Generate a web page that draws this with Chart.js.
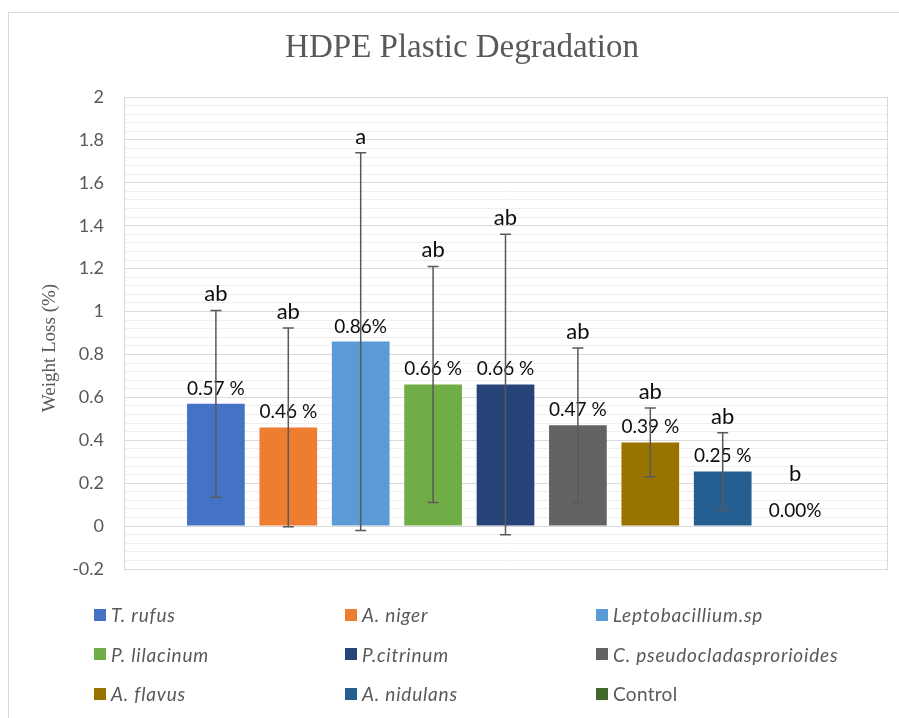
<!DOCTYPE html>
<html>
<head>
<meta charset="utf-8">
<title>HDPE Plastic Degradation</title>
<script src="https://cdn.jsdelivr.net/npm/chart.js@4.4.1/dist/chart.umd.min.js"></script>
<style>
  html, body { margin: 0; padding: 0; background: #fff; overflow: hidden; }
  #frame { position: absolute; left: 8px; top: 12px; width: 906px; height: 720px; border: 1px solid #d9d9d9; }
  #degradation { position: absolute; left: 0; top: 0; }
  #legend { position: absolute; left: 85px; top: 582px; display: grid;
            grid-template-columns: repeat(3, 251px); grid-auto-rows: 39.5px;
            font: italic 19px Lato, sans-serif; letter-spacing: 0.8px; color: #595959; }
  #legend .item { display: flex; align-items: center; white-space: nowrap; }
  #legend .box { width: 12px; height: 12px; margin-right: 5px; flex: none; }
  #legend .upright { font-style: normal; letter-spacing: 0.3px; }
</style>
</head>
<body>
<div id="frame">
  <canvas id="degradation" width="906" height="706"></canvas>
  <div id="legend"></div>
</div>
<script>
const species = ['T. rufus', 'A. niger', 'Leptobacillium.sp', 'P. lilacinum', 'P.citrinum',
                 'C. pseudocladasprorioides', 'A. flavus', 'A. nidulans', 'Control'];
const weightLoss = [0.57, 0.46, 0.86, 0.66, 0.66, 0.47, 0.39, 0.255, 0];
const errors = [0.435, 0.463, 0.88, 0.55, 0.70, 0.36, 0.16, 0.18, 0];
const valueLabels = ['0.57 %', '0.46 %', '0.86%', '0.66 %', '0.66 %', '0.47 %', '0.39 %', '0.25 %', '0.00%'];
const letters = ['ab', 'ab', 'a', 'ab', 'ab', 'ab', 'ab', 'ab', 'b'];
const colors = ['#4472C4', '#ED7D31', '#5B9BD5', '#70AD47', '#264478',
                '#636363', '#997300', '#255E91', '#43682B'];
const uprightNames = ['Control'];
const yTitle = 'Weight Loss (%)';

// error bars, value labels, significance letters and the y title
const annotate = {
    id: 'annotate',
    afterDatasetsDraw(chart) {
        const ctx = chart.ctx;
        const y = chart.scales.y;
        const area = chart.chartArea;
        ctx.save();
        ctx.textAlign = 'center';
        ctx.textBaseline = 'alphabetic';
        chart.data.datasets.forEach((ds, i) => {
            const bar = chart.getDatasetMeta(i).data[0];
            const v = weightLoss[i];
            const e = errors[i];
            const labelBase = y.getPixelForValue(v) - 9;
            ctx.fillStyle = '#0d0d0d';
            ctx.font = '19px Lato';
            ctx.fillText(valueLabels[i], bar.x, labelBase);

            let letterBase = labelBase - 36;
            if (e > 0) {
                const hi = y.getPixelForValue(v + e);
                const lo = y.getPixelForValue(v - e);
                ctx.strokeStyle = '#595959';
                ctx.lineWidth = 1.5;
                ctx.beginPath();
                ctx.moveTo(bar.x, hi);
                ctx.lineTo(bar.x, lo);
                ctx.moveTo(bar.x - 5.5, hi);
                ctx.lineTo(bar.x + 5.5, hi);
                ctx.moveTo(bar.x - 5.5, lo);
                ctx.lineTo(bar.x + 5.5, lo);
                ctx.stroke();
                letterBase = hi - 9;
            }
            ctx.font = '22px Lato';
            ctx.fillText(letters[i], bar.x, letterBase);
        });

        ctx.translate(41, (area.top + area.bottom) / 2 + 15);
        ctx.rotate(-Math.PI / 2);
        ctx.textBaseline = 'middle';
        ctx.fillStyle = '#595959';
        ctx.font = '19px "Liberation Serif"';
        ctx.fillText(yTitle, 0, 0);
        ctx.restore();
    }
};

const htmlLegend = {
    id: 'htmlLegend',
    afterUpdate(chart) {
        const box = document.getElementById('legend');
        box.innerHTML = '';
        const items = chart.options.plugins.legend.labels.generateLabels(chart);
        items.forEach(item => {
            const el = document.createElement('div');
            el.className = 'item';
            const sw = document.createElement('span');
            sw.className = 'box';
            sw.style.background = item.fillStyle;
            const txt = document.createElement('span');
            txt.textContent = item.text;
            if (uprightNames.includes(item.text)) txt.className = 'upright';
            el.appendChild(sw);
            el.appendChild(txt);
            box.appendChild(el);
        });
    }
};

function isMajor(v) {
    return Math.abs(Math.round(v / 0.2) * 0.2 - v) < 1e-6;
}

const canvas = document.getElementById('degradation').getContext('2d');

new Chart(canvas, {
    type: 'bar',
    data: {
        labels: [''],
        datasets: species.map((name, i) => ({
            label: name,
            data: [weightLoss[i]],
            backgroundColor: colors[i],
            borderWidth: 0,
            categoryPercentage: 0.854,
            barPercentage: 0.797
        }))
    },
    options: {
        responsive: false,
        animation: false,
        layout: { padding: { left: 0, right: 0, top: 0, bottom: 150 } },
        plugins: {
            legend: { display: false },
            tooltip: { enabled: false },
            title: {
                display: true,
                text: 'HDPE Plastic Degradation',
                color: '#595959',
                font: { family: 'Liberation Serif', size: 33, weight: 'normal' },
                padding: { top: 16, bottom: 28.4 }
            }
        },
        scales: {
            x: {
                ticks: { display: false },
                grid: { color: '#d9d9d9', drawTicks: false },
                border: { color: '#d9d9d9' }
            },
            y: {
                min: -0.2,
                max: 2,
                ticks: {
                    stepSize: 0.2,
                    padding: 20,
                    color: '#595959',
                    font: { family: 'Lato', size: 18 },
                    callback: v => String(Math.round(v * 10) / 10)
                },
                grid: { color: '#d9d9d9', drawTicks: false },
                border: { color: '#d9d9d9' },
                afterFit: scale => { scale.width = 115; }
            },
            minor: {
                position: 'left',
                min: -0.2,
                max: 2,
                ticks: { display: false, stepSize: 0.04 },
                grid: {
                    drawTicks: false,
                    color: ctx => isMajor(ctx.tick.value) ? 'rgba(0,0,0,0)' : '#efefef'
                },
                border: { display: false },
                afterFit: scale => { scale.width = 0; }
            },
            // empty right-hand axis keeps the plot off the right edge
            spacer: {
                position: 'right',
                min: -0.2,
                max: 2,
                ticks: { display: false },
                grid: { display: false, drawTicks: false },
                border: { display: false },
                afterFit: scale => { scale.width = 28; }
            }
        }
    },
    plugins: [annotate, htmlLegend]
});
</script>
</body>
</html>
